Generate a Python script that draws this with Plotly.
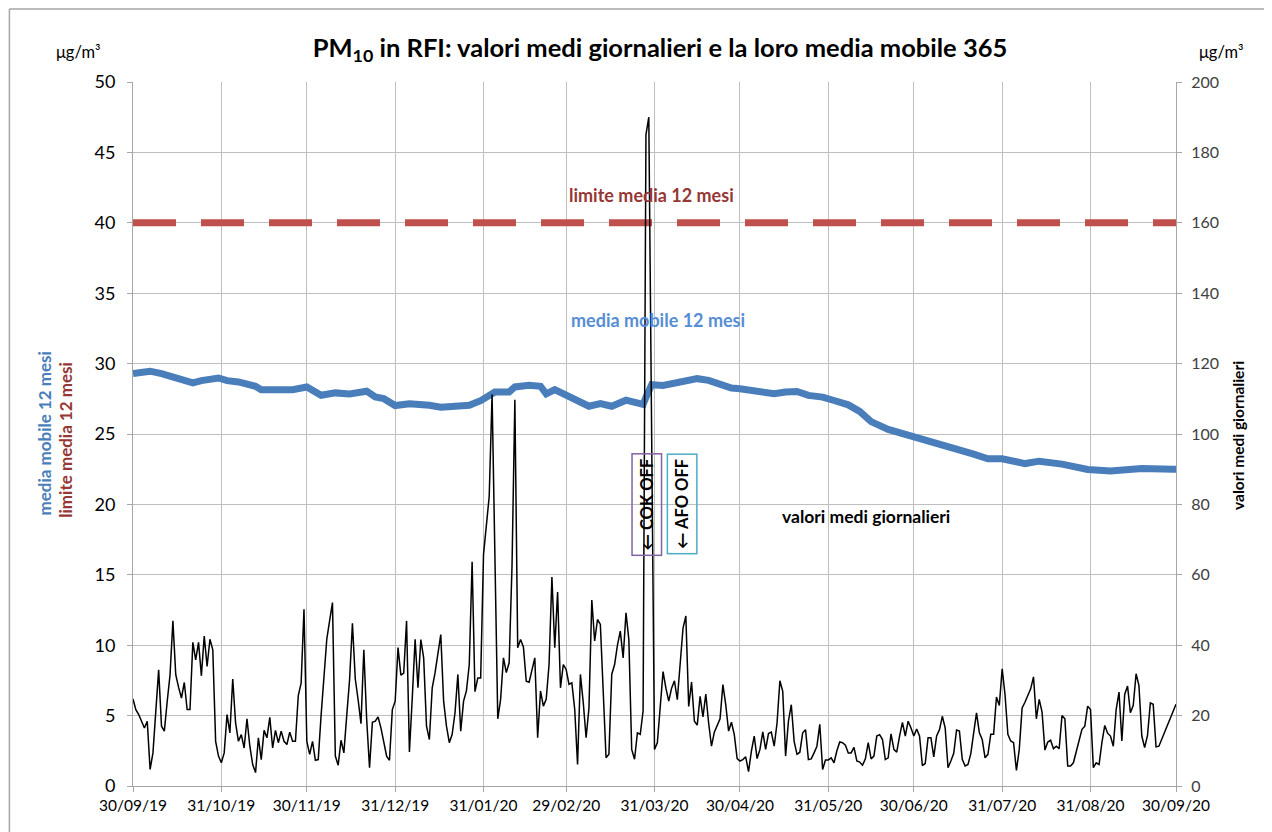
import pandas as pd
import plotly.graph_objects as go

# ---------------- data ----------------
start_date = "2019-09-30"

# daily mean PM10 values (right axis, ug/m3), one per day from 30/09/19; None = missing
daily_values = [
    24.7, 21.7, 20.3, 18.5, 16.5, 18.4, 4.7, 9.4, 20.0, 33.0,
    17.0, 15.6, 24.0, 31.6, 46.9, 31.6, 28.0, 25.0, 29.4, 21.7,
    21.7, 40.8, 35.8, 40.8, 31.3, 42.6, 34.0, 41.7, 38.7, 12.7,
    8.5, 6.6, 9.4, 20.3, 15.1, 30.4, 17.9, 12.7, 14.6, 10.8,
    19.1, 11.3, 6.1, 3.8, 13.7, 7.5, 15.8, 13.7, 19.5, 10.8,
    15.8, 12.3, 15.6, 12.7, 11.8, 15.3, 12.7, 12.7, 25.7, 29.2,
    50.2, 12.7, 9.0, 12.7, 7.3, 7.5, 20.0, 30.7, 41.7, 47.0,
    52.1, 8.5, 5.9, 13.0, 9.4, 20.0, 30.2, 46.2, 30.4, 24.5,
    17.7, 38.7, 18.9, 5.2, 18.1, 18.4, 19.6, 16.5, 12.0, 8.5,
    7.3, 21.7, 24.1, 39.3, 31.5, 32.1, 46.9, 9.7, 25.0, 41.7,
    27.9, 41.6, 36.4, 17.0, 13.2, 27.9, 32.2, 38.0, 43.0, 24.1,
    17.0, 12.3, 14.7, 20.8, 31.7, 15.6, 24.1, 27.0, 34.5, 63.7,
    26.8, 30.7, 30.7, 65.8, 74.7, 82.3, 111.2, 60.0, 19.1, 24.6,
    36.4, 32.2, 35.0, 62.4, 109.7, 39.3, 41.6, 39.5, 29.8, 29.5,
    33.0, 36.4, 13.7, 27.0, 22.7, 24.6, 34.5, 59.4, 39.3, 55.1,
    27.9, 34.5, 33.1, 28.9, 29.3, 21.8, 6.1, 31.7, 23.7, 13.7,
    22.2, 52.8, 41.2, 47.3, 45.9, 28.4, 8.0, 9.0, 31.7, 34.5,
    40.0, 44.0, 36.4, 49.2, 41.6, 10.4, 7.6, 15.1, 14.7, 21.3,
    185.0, 190.0, 100.0, 10.4, 12.3, 22.0, 32.5, 27.8, 24.1, 27.8,
    29.9, 24.5, 35.0, 44.8, 48.3, 22.6, 29.5, 18.4, 17.3, 25.5,
    19.6, 26.1, 17.9, 11.3, 15.3, 17.0, 19.1, 28.8, 23.1, 15.6,
    18.1, 14.6, 7.8, 7.1, 7.5, 8.3, 4.1, 9.9, 14.2, 7.8,
    10.4, 15.4, 10.4, 14.9, 15.3, 11.3, 17.9, 29.9, 26.9, 8.5,
    18.4, 23.1, 12.7, 9.0, 9.6, 15.1, 16.0, 7.5, 7.7, 9.4,
    11.3, 17.5, 4.7, 7.4, 7.4, 8.0, 6.6, 10.0, 12.5, 12.3,
    11.6, 9.4, 9.4, 11.0, 7.1, 6.8, 5.9, 7.7, 12.3, 7.7,
    8.5, 14.2, 14.6, 13.2, 7.5, 8.0, 14.8, 10.4, 9.6, 14.2,
    18.1, 14.2, 18.4, 16.5, 14.2, 16.2, 14.2, 5.8, 6.4, 13.7,
    13.7, 8.3, 14.2, 16.0, 19.8, 16.5, 5.2, 7.1, 9.3, 15.9,
    15.6, 7.6, 5.7, 6.1, 9.2, 15.1, 20.8, 15.1, 13.2, 8.0,
    9.0, 14.7, 14.7, 25.3, 22.9, 33.3, 26.0, 14.7, 12.8, 12.3,
    4.4, 10.4, 22.2, 23.8, 25.5, 27.6, 31.0, 19.1, 24.6, 21.0,
    10.2, 12.5, 13.0, 10.6, 11.3, 10.6, 20.0, 19.1, 5.7, 5.7,
    6.6, 10.0, 13.2, 16.1, 17.0, 22.7, 21.7, 5.2, 6.6, 6.1,
    12.3, 17.2, 15.0, 14.2, 11.3, 21.7, 26.7, 12.8, 26.0, 28.4,
    20.8, 22.9, 31.9, 28.5, 14.2, 10.9, 14.4, 23.6, 23.2, 11.1,
    11.3, None, None, None, None, None, 23.2,
]

# 12-month moving average (left axis, ug/m3)
ma_dates = [
    "2019-09-30", "2019-10-06", "2019-10-10", "2019-10-14", "2019-10-16", "2019-10-21",
    "2019-10-24", "2019-10-27", "2019-10-30", "2019-11-02", "2019-11-06", "2019-11-12",
    "2019-11-14", "2019-11-25", "2019-11-30", "2019-12-05", "2019-12-10", "2019-12-15",
    "2019-12-21", "2019-12-24", "2019-12-27", "2019-12-31", "2020-01-05", "2020-01-12",
    "2020-01-16", "2020-01-26", "2020-01-30", "2020-02-04", "2020-02-09", "2020-02-11",
    "2020-02-16", "2020-02-20", "2020-02-22", "2020-02-25", "2020-02-29", "2020-03-03",
    "2020-03-08", "2020-03-12", "2020-03-16", "2020-03-21", "2020-03-26", "2020-03-27",
    "2020-03-28", "2020-03-29", "2020-03-30", "2020-04-03", "2020-04-10", "2020-04-15",
    "2020-04-19", "2020-04-23", "2020-04-27", "2020-04-30", "2020-05-05", "2020-05-12",
    "2020-05-16", "2020-05-20", "2020-05-24", "2020-05-29", "2020-06-02", "2020-06-07",
    "2020-06-11", "2020-06-15", "2020-06-21", "2020-06-27", "2020-06-30", "2020-07-06",
    "2020-07-09", "2020-07-14", "2020-07-21", "2020-07-26", "2020-07-31", "2020-08-08",
    "2020-08-13", "2020-08-21", "2020-08-30", "2020-09-07", "2020-09-14", "2020-09-18",
    "2020-09-29", "2020-09-30",
]
ma_values = [
    29.29, 29.46, 29.29, 29.03, 28.98, 28.63,
    28.79, 28.86, 28.98, 28.79, 28.70, 28.39,
    28.15, 28.15, 28.34, 27.75, 27.92, 27.85,
    28.04, 27.63, 27.51, 27.02, 27.14, 27.04,
    26.90, 27.04, 27.37, 27.99, 27.99, 28.34,
    28.46, 28.39, 27.85, 28.15, 27.75, 27.44,
    26.97, 27.16, 26.97, 27.40, 27.14, 27.10,
    27.60, 28.10, 28.50, 28.45, 28.67, 28.93,
    28.81, 28.57, 28.26, 28.21, 28.07, 27.86,
    27.98, 28.02, 27.74, 27.62, 27.38, 27.07,
    26.60, 25.88, 25.33, 25.00, 24.81, 24.43,
    24.33, 24.05, 23.57, 23.24, 23.24, 22.90,
    23.07, 22.86, 22.48, 22.38, 22.48, 22.55,
    22.50, 22.50,
]

limit_value = 40  # annual limit (left axis)

tick_dates = [
    "2019-09-30", "2019-10-31", "2019-11-30", "2019-12-31", "2020-01-31", "2020-02-29",
    "2020-03-31", "2020-04-30", "2020-05-31", "2020-06-30", "2020-07-31", "2020-08-31",
    "2020-09-30",
]
tick_labels = [
    "30/09/19", "31/10/19", "30/11/19", "31/12/19", "31/01/20", "29/02/20",
    "31/03/20", "30/04/20", "31/05/20", "30/06/20", "31/07/20", "31/08/20",
    "30/09/20",
]

# ---------------- figure ----------------
FONT = "Lato"
GRID = "#BFBFBF"
BLUE = "#4A7EBB"
RED = "#C0504D"
DARKRED = "#953735"

dates = pd.date_range(start_date, periods=len(daily_values), freq="D")

fig = go.Figure()

fig.add_trace(go.Scatter(
    x=[tick_dates[0], tick_dates[-1]], y=[limit_value, limit_value],
    mode="lines", line=dict(color=RED, width=7, dash="43px,25px"),
    yaxis="y", showlegend=False, hoverinfo="skip",
))
fig.add_trace(go.Scatter(
    x=ma_dates, y=ma_values, mode="lines",
    line=dict(color=BLUE, width=7), yaxis="y", showlegend=False,
))
fig.add_trace(go.Scatter(
    x=dates, y=daily_values, mode="lines", connectgaps=True,
    line=dict(color="black", width=1.5), yaxis="y2", showlegend=False,
))


def note(text, x, y, size, color, angle=0, **kw):
    d = dict(text=text, x=x, y=y, xref="paper", yref="paper", xanchor="center",
             yanchor="middle", textangle=angle, showarrow=False,
             font=dict(size=size, color=color, family=FONT))
    d.update(kw)
    return d


annotations = [
    note("μg/m³", -0.052, 1.043, 16.5, "black"),
    note("μg/m³", 1.044, 1.043, 16.5, "black"),
    note("<b>media mobile 12 mesi</b>", -0.0853, 0.5007, 17, BLUE, -90),
    note("<b>limite media 12 mesi</b>", -0.0642, 0.492, 17, DARKRED, -90),
    note("<b>valori medi giornalieri</b>", 1.0594, 0.4986, 15.5, "black", -90),
    note("<b>limite media 12 mesi</b>", 0.4976, 0.8395, 18, DARKRED),
    note("<b>media mobile 12 mesi</b>", 0.5034, 0.662, 18, "#558ED5"),
    note("<b>valori medi giornalieri</b>", 0.7028, 0.3835, 17.5, "black"),
    note("<b>← COK OFF</b>", 0.4925, 0.400, 16.5, "black", -90,
         bordercolor="#8064A2", borderwidth=1.5, borderpad=4),
    note("<b>← AFO OFF</b>", 0.5264, 0.400, 16.5, "black", -90,
         bordercolor="#4BACC6", borderwidth=1.5, borderpad=4),
]

fig.update_layout(
    width=1264, height=824, autosize=False,
    margin=dict(l=125, r=96, t=74, b=46),
    paper_bgcolor="white", plot_bgcolor="white",
    title=dict(
        text="<b>PM<sub>10</sub> in RFI: valori medi giornalieri e la loro media mobile 365</b>",
        x=0.5158, xanchor="center", y=0.9515, yanchor="middle", xref="container", yref="container",
        font=dict(size=25.5, color="black", family=FONT),
    ),
    xaxis=dict(
        type="date", range=[tick_dates[0], tick_dates[-1]],
        tickvals=tick_dates, ticktext=tick_labels,
        showgrid=True, gridcolor=GRID, gridwidth=1,
        showline=True, linecolor="#A6A6A6", linewidth=1,
        ticks="outside", ticklen=5, tickcolor="#A6A6A6",
        tickfont=dict(size=15.5, color="black", family=FONT),
        zeroline=False,
    ),
    yaxis=dict(
        range=[0, 50], tick0=0, dtick=5,
        showgrid=True, gridcolor=GRID, gridwidth=1,
        showline=True, linecolor="#A6A6A6", linewidth=1,
        ticks="outside", ticklen=5, tickcolor="#A6A6A6",
        tickfont=dict(size=18, color="black", family=FONT),
        ticklabelstandoff=8, zeroline=False,
    ),
    yaxis2=dict(
        range=[0, 200], tick0=0, dtick=20, overlaying="y", side="right",
        showgrid=False, showline=True, linecolor="#A6A6A6", linewidth=1,
        ticks="outside", ticklen=5, tickcolor="#A6A6A6",
        tickfont=dict(size=16, color="#404040", family=FONT),
        ticklabelstandoff=6, zeroline=False,
    ),
    annotations=annotations,
    shapes=[
        dict(type="line", xref="paper", yref="paper", x0=-0.1185, x1=1.2, y0=1.1037, y1=1.1037,
             line=dict(color="#A6A6A6", width=1.5)),
        dict(type="line", xref="paper", yref="paper", x0=-0.1185, x1=-0.1185, y0=-0.1, y1=1.1037,
             line=dict(color="#A6A6A6", width=1.5)),
    ],
)

fig.write_html("out.html")
